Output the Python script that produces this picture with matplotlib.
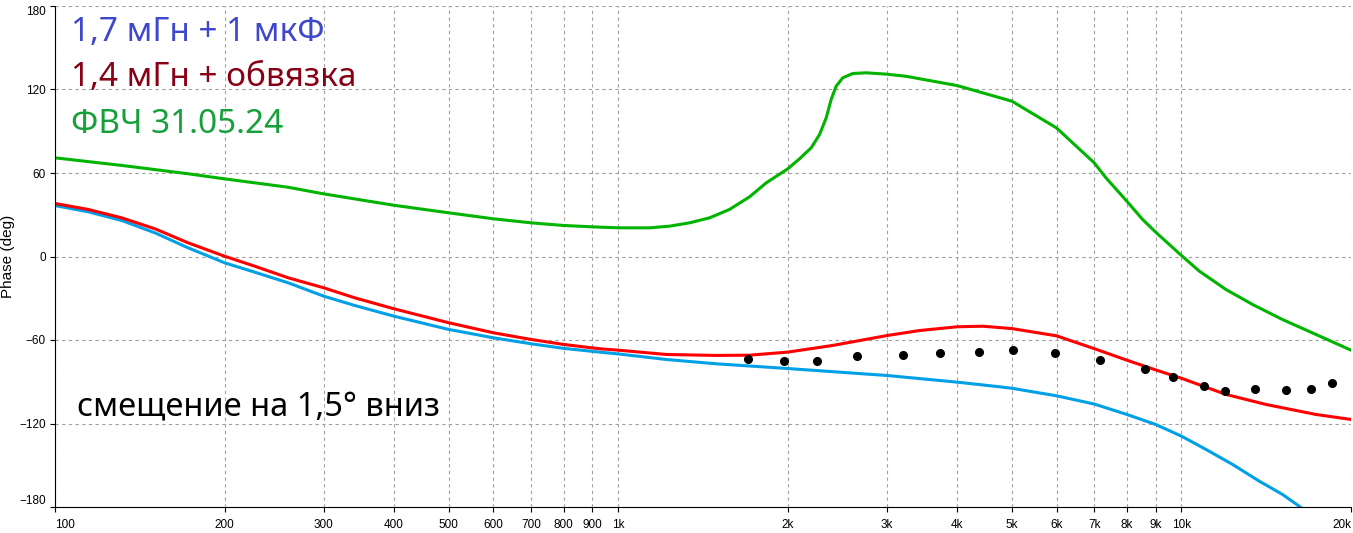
import matplotlib.pyplot as plt
import numpy as np

# phase readings (Hz, deg)
f_green = [100, 131, 172, 200, 259, 300, 400, 500, 600, 700, 800, 900, 1000, 1137, 1234,
           1339, 1453, 1576, 1711, 1831, 2000, 2098, 2201, 2277, 2340, 2388, 2437, 2504,
           2609, 2755, 3000, 3244, 4000, 5000, 6000, 7000, 7345, 8000, 8531, 9000, 10000,
           10755, 11993, 13376, 15118, 17325, 20000]
ph_green = [70.9, 65.5, 59.5, 55.8, 49.8, 45.0, 36.8, 31.4, 27.1, 24.2, 22.3, 21.3, 20.6,
            20.6, 21.8, 24.2, 27.8, 33.8, 42.9, 52.9, 63.0, 70.2, 78.1, 87.6, 99.6, 112.8,
            122.3, 128.4, 131.5, 132.0, 131.0, 129.5, 122.8, 111.6, 92.4, 67.3, 56.5, 39.7,
            26.6, 17.5, 0.7, -10.5, -23.7, -34.5, -45.3, -56.0, -67.3]

f_red = [100, 114.6, 131.3, 150.5, 172.4, 200, 226.4, 259.4, 300, 340.6, 400, 500, 600,
         700, 800, 927, 1000, 1217, 1493, 1711, 2000, 2404, 3000, 3426, 4000, 4437, 5000,
         6000, 7000, 8000, 9000, 10000, 11993, 14122, 17325, 20000]
ph_red = [38.1, 33.8, 27.8, 19.9, 9.8, 0.2, -7.0, -15.3, -22.5, -29.7, -37.6, -47.6, -54.8,
          -59.6, -63.2, -66.3, -67.3, -70.4, -71.1, -70.9, -68.7, -63.9, -56.8, -53.2,
          -50.5, -50.1, -51.8, -57.0, -66.2, -74.5, -81.5, -87.5, -99.1, -106.3, -113.5,
          -117.1]

f_blue = [100, 114.6, 131.3, 150.5, 172.4, 200, 226.4, 259.4, 300, 340.6, 400, 500, 600,
          700, 800, 927, 1000, 1217, 1493, 2000, 3000, 4000, 4750, 5000, 6000, 7000, 8000,
          9000, 10000, 11049, 12323, 13740, 15118, 16180, 17000]
ph_blue = [36.6, 32.1, 25.9, 17.0, 6.2, -4.5, -11.3, -18.9, -28.5, -35.2, -42.9, -52.4,
           -58.4, -62.7, -66.0, -68.7, -70.0, -74.0, -77.1, -80.5, -85.5, -90.3, -93.6,
           -94.7, -100.1, -106.0, -113.5, -120.7, -129.1, -138.6, -149.4, -161.4, -171.0,
           -179.4, -186.0]

# measured points
f_meas = [1703, 1972, 2253, 2650, 3202, 3726, 4375, 5023, 5968, 7177, 8601, 9643,
          10957, 11936, 13500, 15340, 16960, 18530]
ph_meas = [-74.0, -75.2, -75.4, -71.6, -70.9, -69.5, -68.7, -67.3, -69.5, -74.5, -80.9,
           -86.9, -92.7, -96.8, -95.5, -96.0, -95.3, -91.0]

xticks = [100, 200, 300, 400, 500, 600, 700, 800, 900, 1000, 2000, 3000, 4000, 5000,
          6000, 7000, 8000, 9000, 10000, 20000]
xlabels = ["100", "200", "300", "400", "500", "600", "700", "800", "900", "1k", "2k", "3k",
           "4k", "5k", "6k", "7k", "8k", "9k", "10k", "20k"]
yticks = [-180, -120, -60, 0, 60, 120, 180]

tick_font = ["Liberation Sans Narrow", "Liberation Sans"]

fig = plt.figure(figsize=(13.53, 5.33), dpi=100)
ax = fig.add_axes([55 / 1353, 1 - 507 / 533, 1296 / 1353, 501 / 533])

ax.plot(f_green, ph_green, color="#00b400", lw=2.2)
ax.plot(f_blue, ph_blue, color="#00a0e6", lw=2.2)
ax.plot(f_red, ph_red, color="#ff0000", lw=2.2)
ax.plot(f_meas, ph_meas, "o", color="black", ms=5.5)

ax.set_xscale("log")
ax.set_xlim(100, 20000)
ax.set_ylim(-180, 180)
ax.set_xticks(xticks)
ax.set_xticklabels(xlabels)
ax.minorticks_off()
ax.set_yticks(yticks)
ax.tick_params(labelsize=8.5, length=3.6, width=0.8)
ax.tick_params(axis="x", pad=5)
ax.tick_params(axis="y", pad=3)
for lab in ax.get_xticklabels() + ax.get_yticklabels():
    lab.set_family(tick_font)
ax.get_xticklabels()[0].set_ha("left")
ax.get_xticklabels()[-1].set_ha("right")
ax.get_yticklabels()[0].set_va("bottom")
ax.get_yticklabels()[-1].set_va("top")
ax.grid(True, color="#a0a0a0", ls=(0, (3, 3)), lw=0.8)
ax.spines["top"].set_visible(False)
ax.spines["right"].set_visible(False)
ax.set_ylabel("Phase (deg)", fontsize=11, family="Liberation Sans")
ax.yaxis.set_label_coords(-0.0305, 0.5)

ax.text(0.012, 0.93, "1,7 мГн + 1 мкФ", transform=ax.transAxes, fontsize=24,
        family="Noto Sans", color="#3f48cc")
ax.text(0.012, 0.84, "1,4 мГн + обвязка", transform=ax.transAxes, fontsize=24,
        family="Noto Sans", color="#880015")
ax.text(0.012, 0.746, "ФВЧ 31.05.24", transform=ax.transAxes, fontsize=24,
        family="Noto Sans", color="#16a03c")
ax.text(0.017, 0.182, "смещение на 1,5° вниз", transform=ax.transAxes, fontsize=23.5,
        family="Noto Sans", color="black")

fig.savefig("out.png", dpi=100)
